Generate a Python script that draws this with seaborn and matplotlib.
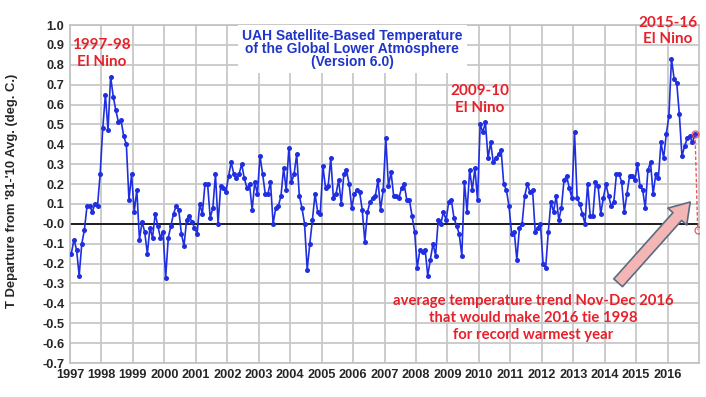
import numpy as np
import pandas as pd
import matplotlib
matplotlib.use("Agg")
import matplotlib.pyplot as plt
import seaborn as sns

# ---------------- data (monthly anomalies, deg C) ----------------
years = list(range(1997, 2017))
y1997 = [-0.15, -0.08, -0.13, -0.26, -0.10, -0.03, 0.09, 0.09, 0.06, 0.10, 0.09, 0.25]
y1998 = [0.48, 0.65, 0.47, 0.74, 0.64, 0.57, 0.51, 0.52, 0.44, 0.40, 0.12, 0.25]
y1999 = [0.06, 0.17, -0.08, 0.01, -0.04, -0.15, -0.02, -0.07, 0.05, -0.01, -0.07, -0.04]
y2000 = [-0.27, -0.07, -0.01, 0.05, 0.09, 0.07, -0.05, -0.11, 0.02, 0.04, 0.01, -0.02]
y2001 = [-0.05, 0.10, 0.05, 0.20, 0.20, 0.03, 0.08, 0.25, 0.00, 0.19, 0.18, 0.16]
y2002 = [0.24, 0.31, 0.25, 0.23, 0.25, 0.30, 0.23, 0.18, 0.20, 0.07, 0.21, 0.15]
y2003 = [0.34, 0.25, 0.15, 0.15, 0.21, 0.00, 0.08, 0.09, 0.14, 0.28, 0.17, 0.38]
y2004 = [0.21, 0.25, 0.35, 0.14, 0.08, 0.00, -0.23, -0.10, 0.02, 0.15, 0.06, 0.05]
y2005 = [0.29, 0.18, 0.19, 0.33, 0.13, 0.15, 0.22, 0.10, 0.25, 0.27, 0.20, 0.08]
y2006 = [0.15, 0.17, 0.16, 0.07, -0.09, 0.06, 0.11, 0.13, 0.14, 0.22, 0.07, 0.17]
y2007 = [0.43, 0.19, 0.26, 0.14, 0.14, 0.13, 0.18, 0.20, 0.12, 0.12, 0.04, -0.04]
y2008 = [-0.22, -0.13, -0.14, -0.13, -0.26, -0.18, -0.10, -0.16, 0.02, 0.00, 0.06, 0.02]
y2009 = [0.11, 0.12, 0.03, -0.01, -0.05, -0.16, 0.21, 0.06, 0.27, 0.17, 0.28, 0.12]
y2010 = [0.50, 0.46, 0.51, 0.33, 0.41, 0.31, 0.33, 0.35, 0.37, 0.20, 0.17, 0.09]
y2011 = [-0.05, -0.04, -0.18, -0.02, 0.00, 0.14, 0.20, 0.16, 0.17, -0.04, -0.02, 0.00]
y2012 = [-0.20, -0.22, -0.04, 0.11, 0.06, 0.14, 0.02, 0.08, 0.22, 0.24, 0.18, 0.13]
y2013 = [0.46, 0.13, 0.10, 0.05, 0.00, 0.20, 0.04, 0.04, 0.21, 0.19, 0.05, 0.13]
y2014 = [0.20, 0.14, 0.09, 0.11, 0.25, 0.25, 0.21, 0.06, 0.15, 0.24, 0.24, 0.22]
y2015 = [0.30, 0.19, 0.17, 0.08, 0.27, 0.31, 0.15, 0.25, 0.23, 0.41, 0.33, 0.45]
y2016 = [0.54, 0.83, 0.73, 0.71, 0.55, 0.34, 0.39, 0.43, 0.44, 0.41, 0.45]

# Nov-Dec 2016 "tie" trend (month numbers and values)
trend_months = [11, 12]
trend_values = [0.45, -0.03]

year_ticks = list(range(1997, 2017))
y_ticks = [round(v, 1) for v in np.arange(-0.7, 1.01, 0.1)]

# ---------------- build table ----------------
all_years = [y1997, y1998, y1999, y2000, y2001, y2002, y2003, y2004, y2005, y2006,
             y2007, y2008, y2009, y2010, y2011, y2012, y2013, y2014, y2015, y2016]
rows = []
for yr, vals in zip(years, all_years):
    for m, v in enumerate(vals, start=1):
        rows.append({"t": yr + (m - 0.5) / 12.0, "anom": v})
df = pd.DataFrame(rows)
trend = pd.DataFrame({"t": [2016 + (m - 0.5) / 12.0 for m in trend_months],
                      "anom": trend_values})

# ---------------- figure ----------------
sns.set_theme(style="white")
plt.rcParams["font.family"] = ["Liberation Sans", "DejaVu Sans"]

fig = plt.figure(figsize=(7.06, 3.97), dpi=100)
ax = fig.add_axes([70 / 706, 1 - 363 / 397, 629 / 706, 338 / 397])

blue = "#1f2fe0"
red = "#e8202a"

sns.lineplot(data=df, x="t", y="anom", ax=ax, color=blue, linewidth=1.2,
             marker="o", markersize=3.6, markeredgewidth=0, zorder=3)
sns.lineplot(data=trend, x="t", y="anom", ax=ax, color=red, linewidth=1.0,
             linestyle=(0, (2.5, 1.5)), marker="o", markersize=5,
             markerfacecolor="none", markeredgecolor=red, markeredgewidth=0.9,
             alpha=0.75, zorder=4)

ax.set_xlim(1997, 2017)
ax.set_ylim(-0.7, 1.0)
ax.set_xticks(year_ticks)
ax.set_xticklabels([str(y) for y in year_ticks])
ax.set_yticks(y_ticks)
ax.set_yticklabels([f"{v:.1f}" for v in y_ticks])
ax.grid(True, color="#c8c8c8", linewidth=1.3)
ax.set_axisbelow(True)
ax.axhline(0, color="black", linewidth=1.2, zorder=2)
for s in ax.spines.values():
    s.set_color("#c0c0c0")
    s.set_linewidth(1.2)
ax.tick_params(axis="both", length=0, pad=4)
for lab in ax.get_xticklabels() + ax.get_yticklabels():
    lab.set_fontweight("bold")
    lab.set_fontsize(9.2)
ax.set_xlabel("")
ax.set_ylabel("T Departure from '81-'10 Avg. (deg. C.)", fontsize=9.4,
              fontweight="bold")
ax.yaxis.set_label_coords(-0.083, 0.51)

# title box
ax.text(2005.97, 0.88, "UAH Satellite-Based Temperature\nof the Global Lower Atmosphere\n(Version 6.0)",
        ha="center", va="center", color="#1f35c8", fontsize=10, fontweight="bold",
        linespacing=0.92,
        bbox=dict(facecolor="white", edgecolor="none", pad=3), zorder=5)

rfont = dict(color=red, fontweight="bold", family=["Lato", "DejaVu Sans"], fontsize=11,
             ha="center", va="center", linespacing=1.25, zorder=5)
ax.text(1998.0, 0.855, "1997-98\nEl Nino", **rfont)
ax.text(2010.03, 0.624, "2009-10\nEl Nino", **rfont)
ax.text(2016.0, 0.97, "2015-16\nEl Nino", clip_on=False, **rfont)
ax.text(2011.72, -0.473, "average temperature trend Nov-Dec 2016\nthat would make 2016 tie 1998\nfor record warmest year",
        color=red, fontweight="bold", family=["Lato", "DejaVu Sans"], fontsize=10.7,
        ha="center", va="center", linespacing=1.3, zorder=5)

ax.annotate("", xy=(2016.78, 0.12), xytext=(2014.37, -0.307),
            arrowprops=dict(arrowstyle="simple,head_length=1.0,head_width=1.3,tail_width=0.6",
                            mutation_scale=14, fc="#f4b5b5", ec="#5b6b82", lw=1.2),
            zorder=4)

fig.savefig("out.png", dpi=100)
